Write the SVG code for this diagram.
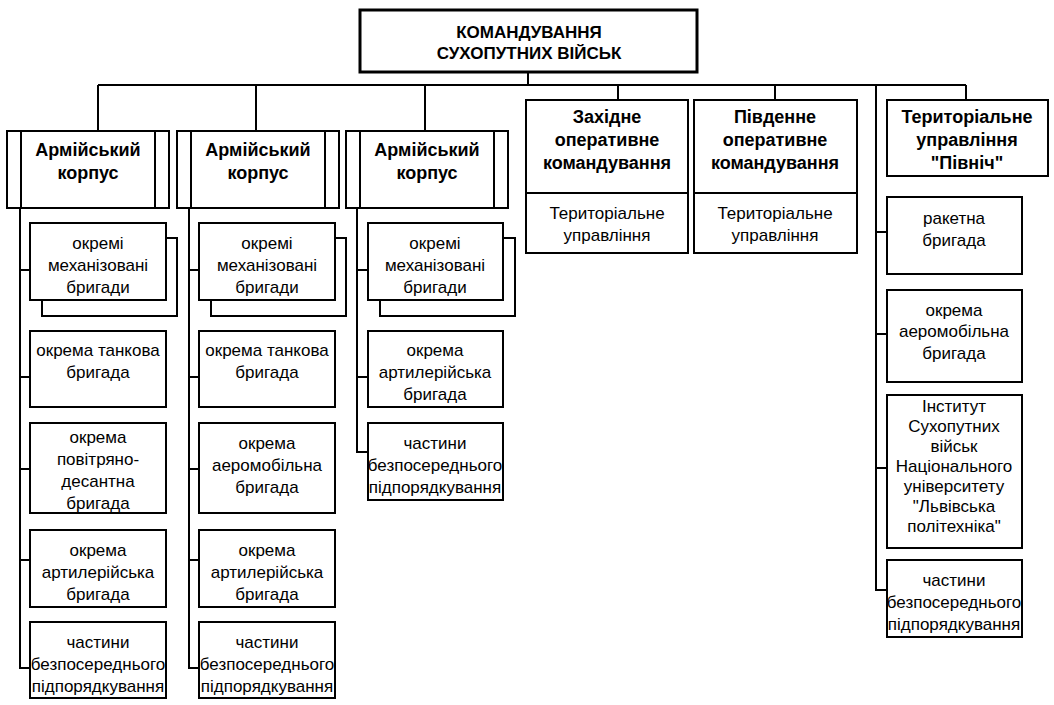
<svg xmlns="http://www.w3.org/2000/svg" width="1054" height="705" viewBox="0 0 1054 705">
<style>
.bx{fill:#fff;stroke:#000;stroke-width:2}
.top{fill:#fff;stroke:#000;stroke-width:3}
.ln{fill:none;stroke:#000;stroke-width:2}
.h{font-family:"Liberation Sans",Arial,sans-serif;font-weight:bold;font-size:18px;text-anchor:middle;fill:#000}
.h0{font-family:"Liberation Sans",Arial,sans-serif;font-weight:bold;font-size:17px;text-anchor:middle;fill:#000}
.t{font-family:"Liberation Sans",Arial,sans-serif;font-size:17px;text-anchor:middle;fill:#000}
</style>
<rect width="1054" height="705" fill="#fff"/>
<g id="connectors" class="ln">
<path d="M528 72V85M98 85H966M98 85V131M256 85V131M425 85V131M618 85V100M775 85V100M966 85V100M876 85V590H887"/>
<path d="M20 208V668H30M20 270H30M20 377H30M20 469H30M20 560H30"/>
<path d="M189 208V668H199M189 270H199M189 377H199M189 469H199M189 560H199"/>
<path d="M357 208V452H368M357 270H368M357 377H368"/>
<path d="M876 232H887M876 334H887M876 468H887"/>
</g>
<g id="n-top"><rect class="top" x="360" y="10" width="337" height="62"/><text class="h0" x="529" y="38">КОМАНДУВАННЯ</text><text class="h0" x="529" y="59">СУХОПУТНИХ ВІЙСЬК</text></g>
<g id="n-ak1"><rect class="bx" x="7" y="131" width="162" height="77"/><path class="ln" d="M21 131V208M155 131V208"/><text class="h" x="88" y="156">Армійський</text><text class="h" x="88" y="179">корпус</text></g>
<g id="n-ak2"><rect class="bx" x="177" y="131" width="162" height="77"/><path class="ln" d="M191 131V208M325 131V208"/><text class="h" x="258" y="156">Армійський</text><text class="h" x="258" y="179">корпус</text></g>
<g id="n-ak3"><rect class="bx" x="346" y="131" width="162" height="77"/><path class="ln" d="M360 131V208M494 131V208"/><text class="h" x="427" y="156">Армійський</text><text class="h" x="427" y="179">корпус</text></g>
<g id="n-west"><rect class="bx" x="526" y="100" width="162" height="153"/><path class="ln" d="M526 193H688"/><text class="h" x="607" y="123">Західне</text><text class="h" x="607" y="146">оперативне</text><text class="h" x="607" y="169">командування</text><text class="t" x="607" y="219">Територіальне</text><text class="t" x="607" y="241">управління</text></g>
<g id="n-south"><rect class="bx" x="694" y="100" width="163" height="153"/><path class="ln" d="M694 193H857"/><text class="h" x="775" y="123">Південне</text><text class="h" x="775" y="146">оперативне</text><text class="h" x="775" y="169">командування</text><text class="t" x="775" y="219">Територіальне</text><text class="t" x="775" y="241">управління</text></g>
<g id="n-north"><rect class="bx" x="887" y="100" width="161" height="76"/><text class="h" x="967" y="123">Територіальне</text><text class="h" x="967" y="146">управління</text><text class="h" x="967" y="169">"Північ"</text></g>
<g id="c1-mech"><rect class="bx" x="42" y="238" width="135" height="78"/><rect class="bx" x="30" y="223" width="136" height="77"/><text class="t" x="98" y="249">окремі</text><text class="t" x="98" y="271">механізовані</text><text class="t" x="98" y="293">бригади</text></g>
<g id="c1-tank"><rect class="bx" x="30" y="331" width="136" height="76"/><text class="t" x="98" y="356">окрема танкова</text><text class="t" x="98" y="378">бригада</text></g>
<g id="c1-air"><rect class="bx" x="30" y="423" width="136" height="90"/><text class="t" x="98" y="443">окрема</text><text class="t" x="98" y="465">повітряно-</text><text class="t" x="98" y="487">десантна</text><text class="t" x="98" y="509">бригада</text></g>
<g id="c1-art"><rect class="bx" x="30" y="530" width="136" height="77"/><text class="t" x="98" y="556">окрема</text><text class="t" x="98" y="578">артилерійська</text><text class="t" x="98" y="600">бригада</text></g>
<g id="c1-part"><rect class="bx" x="30" y="622" width="136" height="76"/><text class="t" x="98" y="648">частини</text><text class="t" x="98" y="670">безпосереднього</text><text class="t" x="98" y="692">підпорядкування</text></g>
<g id="c2-mech"><rect class="bx" x="211" y="238" width="135" height="78"/><rect class="bx" x="199" y="223" width="136" height="77"/><text class="t" x="267" y="249">окремі</text><text class="t" x="267" y="271">механізовані</text><text class="t" x="267" y="293">бригади</text></g>
<g id="c2-tank"><rect class="bx" x="199" y="331" width="136" height="76"/><text class="t" x="267" y="356">окрема танкова</text><text class="t" x="267" y="378">бригада</text></g>
<g id="c2-aero"><rect class="bx" x="199" y="423" width="136" height="90"/><text class="t" x="267" y="449">окрема</text><text class="t" x="267" y="471">аеромобільна</text><text class="t" x="267" y="493">бригада</text></g>
<g id="c2-art"><rect class="bx" x="199" y="530" width="136" height="77"/><text class="t" x="267" y="556">окрема</text><text class="t" x="267" y="578">артилерійська</text><text class="t" x="267" y="600">бригада</text></g>
<g id="c2-part"><rect class="bx" x="199" y="622" width="136" height="76"/><text class="t" x="267" y="648">частини</text><text class="t" x="267" y="670">безпосереднього</text><text class="t" x="267" y="692">підпорядкування</text></g>
<g id="c3-mech"><rect class="bx" x="380" y="238" width="135" height="78"/><rect class="bx" x="368" y="223" width="135" height="77"/><text class="t" x="435" y="249">окремі</text><text class="t" x="435" y="271">механізовані</text><text class="t" x="435" y="293">бригади</text></g>
<g id="c3-art"><rect class="bx" x="368" y="331" width="135" height="76"/><text class="t" x="435" y="356">окрема</text><text class="t" x="435" y="378">артилерійська</text><text class="t" x="435" y="400">бригада</text></g>
<g id="c3-part"><rect class="bx" x="368" y="423" width="135" height="77"/><text class="t" x="435" y="449">частини</text><text class="t" x="435" y="471">безпосереднього</text><text class="t" x="435" y="493">підпорядкування</text></g>
<g id="r-rocket"><rect class="bx" x="887" y="197" width="135" height="77"/><text class="t" x="954" y="224">ракетна</text><text class="t" x="954" y="246">бригада</text></g>
<g id="r-aero"><rect class="bx" x="887" y="290" width="135" height="92"/><text class="t" x="954" y="316">окрема</text><text class="t" x="954" y="337">аеромобільна</text><text class="t" x="954" y="359">бригада</text></g>
<g id="r-inst"><rect class="bx" x="887" y="395" width="135" height="153"/><text class="t" x="954" y="412">Інститут</text><text class="t" x="954" y="432">Сухопутних</text><text class="t" x="954" y="452">військ</text><text class="t" x="954" y="472">Національного</text><text class="t" x="954" y="492">університету</text><text class="t" x="954" y="512">"Львівська</text><text class="t" x="954" y="532">політехніка"</text></g>
<g id="r-part"><rect class="bx" x="887" y="560" width="135" height="77"/><text class="t" x="954" y="586">частини</text><text class="t" x="954" y="608">безпосереднього</text><text class="t" x="954" y="630">підпорядкування</text></g>
</svg>
